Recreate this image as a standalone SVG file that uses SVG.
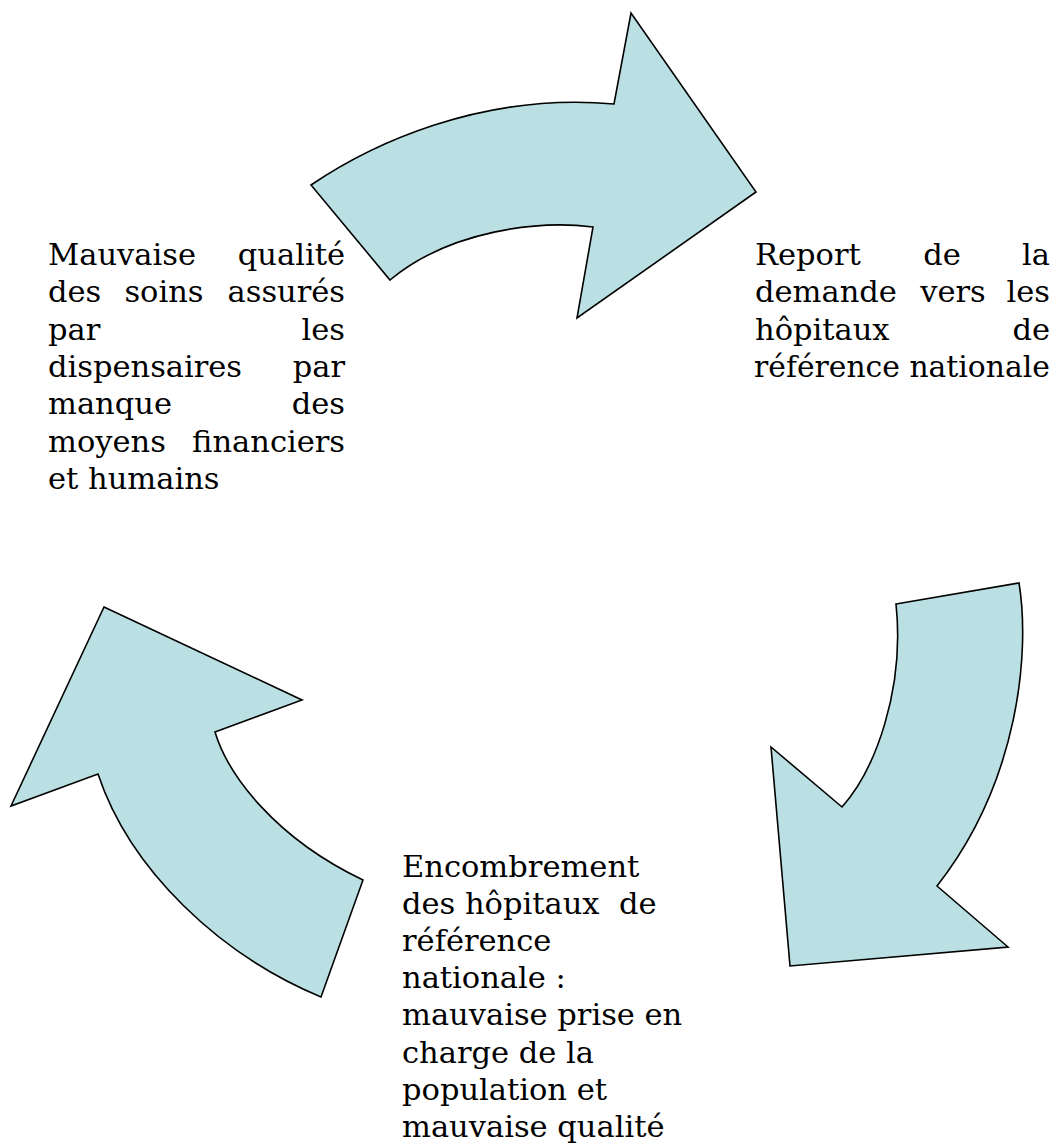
<svg xmlns="http://www.w3.org/2000/svg" width="1054" height="1144" viewBox="0 0 1054 1144">
<style>
.arrow{fill:#BAE0E3;stroke:#000;stroke-width:1.6;stroke-linejoin:miter}
text{font-family:"DejaVu Serif","Liberation Serif",serif;font-size:30.5px;fill:#000}
.e{text-anchor:end}
.m{text-anchor:middle}
</style>
<rect width="1054" height="1144" fill="#fff"/>
<g id="connectors">
<path id="arrow-top" class="arrow" d="M311,185 C370,145 480,92 614,104 L631,13 L756,192 L577,318 L593,227 C540,220 450,230 390,280 Z"/>
<path id="arrow-right" class="arrow" d="M896,604 L1019,583 C1030,650 1020,780 937,886 L1008,947 L790,966 L771,747 L842,807 C875,770 905,690 896,604 Z"/>
<path id="arrow-left" class="arrow" d="M104,607 L302,700 L215,732 C228,775 275,838 363,880 L321,997 C220,955 130,870 98,774 L11,806 Z"/>
</g>
<g id="node-mauvaise-qualite">
<text x="48" y="265">Mauvaise</text><text class="e" x="345" y="265">qualité</text>
<text x="48" y="302.3">des</text><text class="m" x="164" y="302.3">soins</text><text class="e" x="345" y="302.3">assurés</text>
<text x="48" y="339.6">par</text><text class="e" x="345" y="339.6">les</text>
<text x="48" y="376.9">dispensaires</text><text class="e" x="345" y="376.9">par</text>
<text x="48" y="414.2">manque</text><text class="e" x="345" y="414.2">des</text>
<text x="48" y="451.5">moyens</text><text class="e" x="345" y="451.5">financiers</text>
<text x="48" y="488.8">et humains</text>
</g>
<g id="node-report">
<text x="755" y="265">Report</text><text class="m" x="942" y="265">de</text><text class="e" x="1050" y="265">la</text>
<text x="755" y="302.3">demande</text><text class="m" x="953" y="302.3">vers</text><text class="e" x="1050" y="302.3">les</text>
<text x="755" y="339.6">hôpitaux</text><text class="e" x="1050" y="339.6">de</text>
<text x="754" y="376.9" style="font-size:29.8px">référence nationale</text>
</g>
<g id="node-encombrement">
<text x="402" y="877">Encombrement</text>
<text x="402" y="914.1" xml:space="preserve">des hôpitaux  de</text>
<text x="402" y="951.2">référence</text>
<text x="402" y="988.3">nationale :</text>
<text x="402" y="1025.4">mauvaise prise en</text>
<text x="402" y="1062.5">charge de la</text>
<text x="402" y="1099.6">population et</text>
<text x="402" y="1136.7">mauvaise qualité</text>
</g>
</svg>
